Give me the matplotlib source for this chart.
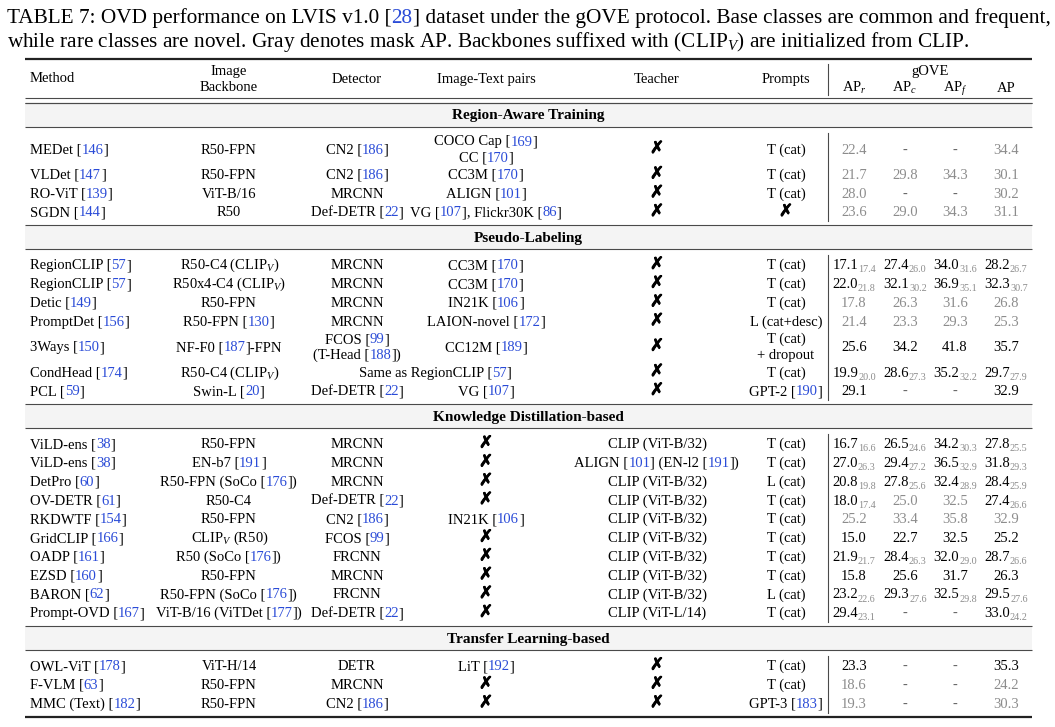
import re
import matplotlib.pyplot as plt
import matplotlib.patheffects as pe

plt.rcParams['font.family'] = ['Liberation Serif', 'DejaVu Sans']
plt.rcParams['mathtext.fontset'] = 'custom'
plt.rcParams['mathtext.rm'] = 'Liberation Serif'
plt.rcParams['mathtext.it'] = 'Liberation Serif:italic'
plt.rcParams['mathtext.bf'] = 'Liberation Serif:bold'

# ---------------- table content ----------------
caption = ["TABLE 7: OVD performance on LVIS v1.0 [28] dataset under the gOVE protocol. "
           "Base classes are common and frequent,",
           "while rare classes are novel. Gray denotes mask AP. "
           "Backbones suffixed with (CLIP$_V$) are initialized from CLIP."]

headers = ["Method", "Image\nBackbone", "Detector", "Image-Text pairs", "Teacher", "Prompts"]
ap_group = "gOVE"
ap_headers = ["AP$_r$", "AP$_c$", "AP$_f$", "AP"]

sections = ["Region-Aware Training", "Pseudo-Labeling",
            "Knowledge Distillation-based", "Transfer Learning-based"]
section_sizes = [4, 7, 10, 3]

methods = ["MEDet [146]", "VLDet [147]", "RO-ViT [139]", "SGDN [144]",
           "RegionCLIP [57]", "RegionCLIP [57]", "Detic [149]", "PromptDet [156]",
           "3Ways [150]", "CondHead [174]", "PCL [59]",
           "ViLD-ens [38]", "ViLD-ens [38]", "DetPro [60]", "OV-DETR [61]", "RKDWTF [154]",
           "GridCLIP [166]", "OADP [161]", "EZSD [160]", "BARON [62]", "Prompt-OVD [167]",
           "OWL-ViT [178]", "F-VLM [63]", "MMC (Text) [182]"]
backbones = ["R50-FPN", "R50-FPN", "ViT-B/16", "R50",
             "R50-C4 (CLIP$_V$)", "R50x4-C4 (CLIP$_V$)", "R50-FPN", "R50-FPN [130]",
             "NF-F0 [187]-FPN", "R50-C4 (CLIP$_V$)", "Swin-L [20]",
             "R50-FPN", "EN-b7 [191]", "R50-FPN (SoCo [176])", "R50-C4", "R50-FPN",
             "CLIP$_V$ (R50)", "R50 (SoCo [176])", "R50-FPN", "R50-FPN (SoCo [176])",
             "ViT-B/16 (ViTDet [177])",
             "ViT-H/14", "R50-FPN", "R50-FPN"]
detectors = ["CN2 [186]", "CN2 [186]", "MRCNN", "Def-DETR [22]",
             "MRCNN", "MRCNN", "MRCNN", "MRCNN", "FCOS [99]\n(T-Head [188])",
             "Same as RegionCLIP [57]", "Def-DETR [22]",
             "MRCNN", "MRCNN", "MRCNN", "Def-DETR [22]", "CN2 [186]",
             "FCOS [99]", "FRCNN", "MRCNN", "FRCNN", "Def-DETR [22]",
             "DETR", "MRCNN", "CN2 [186]"]
pairs = ["COCO Cap [169]\nCC [170]", "CC3M [170]", "ALIGN [101]", "VG [107], Flickr30K [86]",
         "CC3M [170]", "CC3M [170]", "IN21K [106]", "LAION-novel [172]", "CC12M [189]",
         "", "VG [107]",
         "X", "X", "X", "X", "IN21K [106]", "X", "X", "X", "X", "X",
         "LiT [192]", "X", "X"]
teachers = ["X", "X", "X", "X",
            "X", "X", "X", "X", "X", "X", "X",
            "CLIP (ViT-B/32)", "ALIGN [101] (EN-l2 [191])", "CLIP (ViT-B/32)",
            "CLIP (ViT-B/32)", "CLIP (ViT-B/32)", "CLIP (ViT-B/32)", "CLIP (ViT-B/32)",
            "CLIP (ViT-B/32)", "CLIP (ViT-B/32)", "CLIP (ViT-L/14)",
            "X", "X", "X"]
prompts = ["T (cat)", "T (cat)", "T (cat)", "X",
           "T (cat)", "T (cat)", "T (cat)", "L (cat+desc)", "T (cat)\n+ dropout",
           "T (cat)", "GPT-2 [190]",
           "T (cat)", "T (cat)", "L (cat)", "T (cat)", "T (cat)", "T (cat)", "T (cat)",
           "T (cat)", "L (cat)", "T (cat)",
           "T (cat)", "T (cat)", "GPT-3 [183]"]

# "~" = mask AP only (gray), "a_b" = box AP with mask AP as subscript
ap_r = ["~22.4", "~21.7", "~28.0", "~23.6",
        "17.1_17.4", "22.0_21.8", "~17.8", "~21.4", "25.6", "19.9_20.0", "29.1",
        "16.7_16.6", "27.0_26.3", "20.8_19.8", "18.0_17.4", "~25.2", "15.0",
        "21.9_21.7", "15.8", "23.2_22.6", "29.4_23.1",
        "23.3", "~18.6", "~19.3"]
ap_c = ["-", "~29.8", "-", "~29.0",
        "27.4_26.0", "32.1_30.2", "~26.3", "~23.3", "34.2", "28.6_27.3", "-",
        "26.5_24.6", "29.4_27.2", "27.8_25.6", "~25.0", "~33.4", "22.7",
        "28.4_26.3", "25.6", "29.3_27.6", "-",
        "-", "-", "-"]
ap_f = ["-", "~34.3", "-", "~34.3",
        "34.0_31.6", "36.9_35.1", "~31.6", "~29.3", "41.8", "35.2_32.2", "-",
        "34.2_30.3", "36.5_32.9", "32.4_28.9", "~32.5", "~35.8", "32.5",
        "32.0_29.0", "31.7", "32.5_29.8", "-",
        "-", "-", "-"]
ap_all = ["~34.4", "~30.1", "~30.2", "~31.1",
          "28.2_26.7", "32.3_30.7", "~26.8", "~25.3", "35.7", "29.7_27.9", "32.9",
          "27.8_25.5", "31.8_29.3", "28.4_25.9", "27.4_26.6", "~32.9", "25.2",
          "28.7_26.6", "26.3", "29.5_27.6", "33.0_24.2",
          "35.3", "~24.2", "~30.3"]

# ---------------- layout ----------------
FS = 10.5
BAND_FS = 11
SUB_FS = 7.3
LINK = '#2a4bd7'
GRAY = '#8c8c8c'
RULE = '#4a4a4a'
BAND = '#f4f4f4'
LEFT, RIGHT = 25, 1032
col_x = [30, 229, 357, 486, 657, 786]
span_x = 435          # centre of a cell spanning Detector + Image-Text pairs
vline_x = 828
ap_x = [854, 905, 955, 1006]
ROW_H, ROW_H2 = 18.8, 32
BAND_H, PAD_TOP, PAD_BOT = 24, 6, 4
LINE = 16
BASE = 4.5            # row centre -> text baseline

fig = plt.figure(figsize=(10.55, 7.27), dpi=100)
ax = fig.add_axes([0, 0, 1, 1])
ax.set_xlim(0, 1055)
ax.set_ylim(727, 0)
ax.axis('off')
rend = fig.canvas.get_renderer()


def _ink(s, size, weight):
    t = ax.text(0, 0, s, fontsize=size, fontweight=weight)
    w = t.get_window_extent(rend).width
    t.remove()
    return w


def text_w(s, size=FS, weight='normal'):
    # width of s incl. spaces at either end ('|' used as sentinels)
    return _ink('|' + s + '|', size, weight) - _ink('||', size, weight)


def rich(x, y, s, ha='center', size=FS, weight='normal', color='black'):
    # numbers inside [..] are drawn as blue links
    parts = re.split(r'(?<=\[)(\d+)(?=\])', s)
    ws = [text_w(p, size, weight) if p else 0 for p in parts]
    x0 = x - sum(ws) / 2 if ha == 'center' else x
    for i, p in enumerate(parts):
        if p:
            ax.text(x0, y, p, fontsize=size, fontweight=weight,
                    color=LINK if i % 2 else color, ha='left', va='baseline')
        x0 += ws[i]


def cross(x, yc):
    ax.text(x, yc + 4, '\u2717', family='DejaVu Sans', fontsize=12,
            ha='center', va='baseline',
            path_effects=[pe.withStroke(linewidth=0.7, foreground='black')])


def cell(x, yc, s, ha='center'):
    lines = s.split('\n')
    for i, line in enumerate(lines):
        yl = yc + (i - (len(lines) - 1) / 2) * LINE
        if line == 'X':
            cross(x, yl)
        elif line:
            rich(x, yl + BASE, line, ha)


def ap_cell(x, yc, v):
    yb = yc + BASE
    if v == '-':
        ax.text(x, yb, '-', fontsize=FS, color='#666666', ha='center', va='baseline')
    elif v.startswith('~'):
        ax.text(x, yb, v[1:], fontsize=FS, color=GRAY, ha='center', va='baseline')
    elif '_' in v:
        main, sub = v.split('_')
        w1, w2 = text_w(main), text_w(sub, SUB_FS)
        x0 = x - (w1 + w2) / 2
        ax.text(x0, yb, main, fontsize=FS, ha='left', va='baseline')
        ax.text(x0 + w1, yb + 3, sub, fontsize=SUB_FS, color=GRAY,
                ha='left', va='baseline')
    else:
        ax.text(x, yb, v, fontsize=FS, ha='center', va='baseline')


def hrule(y, lw=0.8, color=RULE):
    ax.plot([LEFT, RIGHT], [y, y], color=color, lw=lw, solid_capstyle='butt')


# caption, scaled to the width of the page
cap_fs = 10.5 * 1043 / text_w(caption[0], 10.5)
rich(7, 23, caption[0], ha='left', size=cap_fs)
rich(7, 47, caption[1], ha='left', size=cap_fs)

# header
hrule(59, lw=1.6, color='#222222')
for i, h in enumerate(headers):
    if i == 0:
        ax.text(col_x[0], 78 + BASE, h, fontsize=FS, ha='left', va='baseline')
    else:
        cell(col_x[i], 78.5, h)
ax.text((ap_x[0] + ap_x[3]) / 2, 70 + BASE, ap_group, fontsize=FS,
        ha='center', va='baseline')
for x, h in zip(ap_x, ap_headers):
    ax.text(x, 87 + BASE, h, fontsize=FS, ha='center', va='baseline')
ax.plot([vline_x, vline_x], [64, 95], color=RULE, lw=0.8)
hrule(98)
hrule(103)

# body
y = 103
r = 0
for name, n in zip(sections, section_sizes):
    ax.fill_between([LEFT, RIGHT], y, y + BAND_H, color=BAND, lw=0)
    ax.text((LEFT + RIGHT) / 2, y + BAND_H / 2 + BASE, name, fontsize=BAND_FS,
            fontweight='bold', ha='center', va='baseline')
    hrule(y)
    y += BAND_H
    hrule(y)
    y += PAD_TOP
    y_start = y
    for k in range(r, r + n):
        cells = [methods[k], backbones[k], detectors[k], pairs[k], teachers[k], prompts[k]]
        h = ROW_H2 if any('\n' in c for c in cells) else ROW_H
        yc = y + h / 2
        cell(col_x[0], yc, methods[k], ha='left')
        cell(col_x[1], yc, backbones[k])
        cell(col_x[2] if pairs[k] else span_x, yc, detectors[k])
        cell(col_x[3], yc, pairs[k])
        cell(col_x[4], yc, teachers[k])
        cell(col_x[5], yc, prompts[k])
        for x, col in zip(ap_x, [ap_r, ap_c, ap_f, ap_all]):
            ap_cell(x, yc, col[k])
        y += h
    ax.plot([vline_x, vline_x], [y_start, y], color=RULE, lw=0.8)
    y += PAD_BOT
    r += n
hrule(y, lw=1.6, color='#222222')

fig.savefig('out.png', dpi=100)
